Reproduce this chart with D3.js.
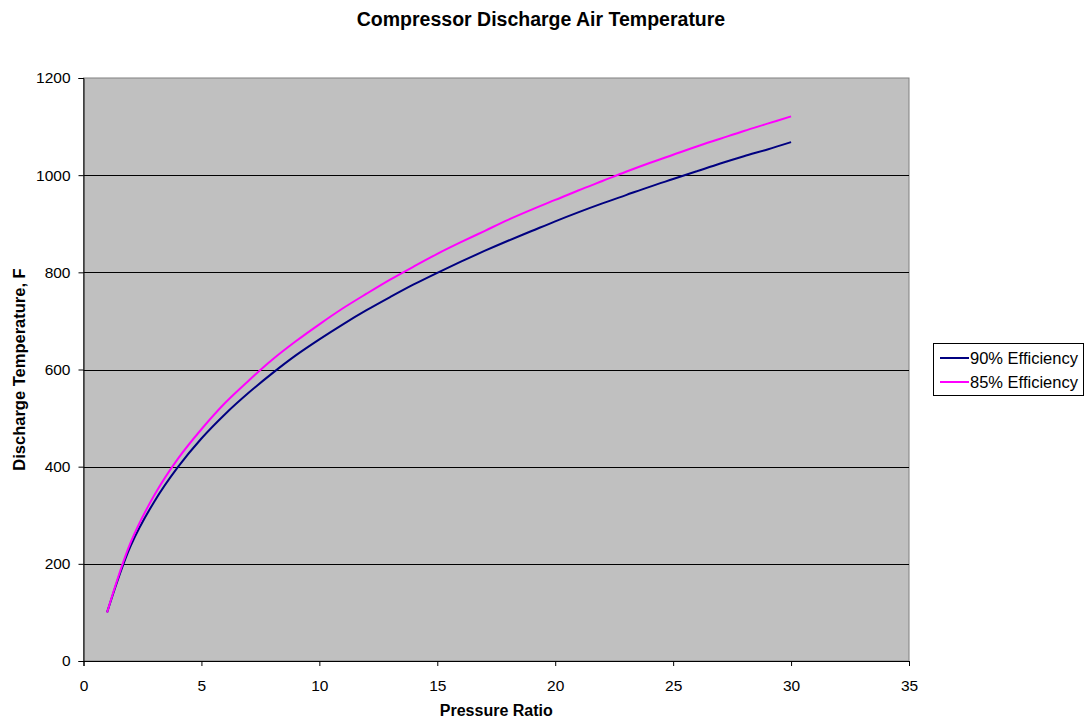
<!DOCTYPE html>
<html>
<head>
<meta charset="utf-8">
<script src="https://cdn.jsdelivr.net/npm/d3@7"></script>
<style>
  html, body { margin: 0; padding: 0; background: #fff; }
  svg { display: block; font-family: "Liberation Sans", Arial, sans-serif; }
</style>
</head>
<body>
<svg id="chart" width="1084" height="719"></svg>
<script>
// Pressure ratio samples and discharge temperatures (F)
const pressureRatio = [1,2,3,4,5,6,7,8,9,10,11,12,13,14,15,16,17,18,19,20,21,22,23,24,25,26,27,28,29,30];
const eff90 = [100,237,328,399,458,508,552,592,629,662,693,722,749,775,799,822,844,865,885,905,924,942,959,976,992,1008,1024,1039,1053,1068];
const eff85 = [100,244,341,416,477,531,577,620,658,693,726,756,785,812,838,862,885,908,929,949,969,988,1007,1025,1042,1059,1075,1091,1106,1121];
const seriesNames = ["90% Efficiency", "85% Efficiency"];
const seriesColors = ["#000080", "#ff00ff"];
const xTicks = [0,5,10,15,20,25,30,35];
const yTicks = [0,200,400,600,800,1000,1200];

const svg = d3.select("#chart");
const plotLeft = 83.5, plotRight = 909, plotTop = 78, plotBottom = 661;

const x = d3.scaleLinear().domain([0, 35]).range([plotLeft, plotRight]);
const y = d3.scaleLinear().domain([0, 1200]).range([plotBottom, plotTop]);

// Plot area background and border
svg.append("rect")
  .attr("x", plotLeft).attr("y", plotTop)
  .attr("width", plotRight - plotLeft).attr("height", plotBottom - plotTop)
  .attr("fill", "#c0c0c0")
  .attr("stroke", "#808080").attr("stroke-width", 1);

// Horizontal gridlines
svg.append("g")
  .selectAll("line")
  .data(yTicks.filter(d => d > 0 && d < 1200))
  .join("line")
  .attr("x1", plotLeft).attr("x2", plotRight)
  .attr("y1", d => Math.round(y(d)) + 0.5).attr("y2", d => Math.round(y(d)) + 0.5)
  .attr("stroke", "#000").attr("stroke-width", 1);

// Axes
const xAxis = d3.axisBottom(x).tickValues(xTicks).tickSize(5).tickPadding(14).tickFormat(d3.format("d"));
const yAxis = d3.axisLeft(y).tickValues(yTicks).tickSize(5).tickPadding(8).tickFormat(d3.format("d"));

const gx = svg.append("g").attr("transform", `translate(0,${plotBottom})`).call(xAxis);
const gy = svg.append("g").attr("transform", `translate(${plotLeft},0)`).call(yAxis);
[gx, gy].forEach(g => {
  g.select(".domain").attr("stroke", "#000");
  g.selectAll(".tick line").attr("stroke", "#000");
  g.selectAll(".tick text").attr("fill", "#000").attr("font-size", 15.5)
    .attr("font-family", "'Liberation Sans', Arial, sans-serif");
});

// Curves
const series = [eff90, eff85];
const line = d3.line()
  .x((d, i) => x(pressureRatio[i]))
  .y(d => y(d))
  .curve(d3.curveCatmullRom.alpha(0.5));

series.forEach((vals, k) => {
  svg.append("path")
    .datum(vals)
    .attr("d", line)
    .attr("fill", "none")
    .attr("stroke", seriesColors[k])
    .attr("stroke-width", 2);
});

// Title
svg.append("text")
  .attr("x", 541).attr("y", 26)
  .attr("text-anchor", "middle")
  .attr("font-size", 19.5).attr("font-weight", "bold")
  .text("Compressor Discharge Air Temperature");

// Axis titles
svg.append("text")
  .attr("x", (plotLeft + plotRight) / 2).attr("y", 716)
  .attr("text-anchor", "middle")
  .attr("font-size", 16).attr("font-weight", "bold")
  .text("Pressure Ratio");

svg.append("text")
  .attr("transform", `translate(25,${(plotTop + plotBottom) / 2}) rotate(-90)`)
  .attr("text-anchor", "middle")
  .attr("font-size", 16.5).attr("font-weight", "bold")
  .text("Discharge Temperature, F");

// Legend
const legend = svg.append("g");
legend.append("rect")
  .attr("x", 933.5).attr("y", 343.5)
  .attr("width", 150).attr("height", 52)
  .attr("fill", "#fff").attr("stroke", "#000").attr("stroke-width", 1);

seriesNames.forEach((name, k) => {
  const ly = 358 + k * 24;
  legend.append("line")
    .attr("x1", 940).attr("x2", 969)
    .attr("y1", ly).attr("y2", ly)
    .attr("stroke", seriesColors[k]).attr("stroke-width", 2);
  legend.append("text")
    .attr("x", 970).attr("y", ly + 6)
    .attr("font-size", 16.5)
    .text(name);
});
</script>
</body>
</html>
